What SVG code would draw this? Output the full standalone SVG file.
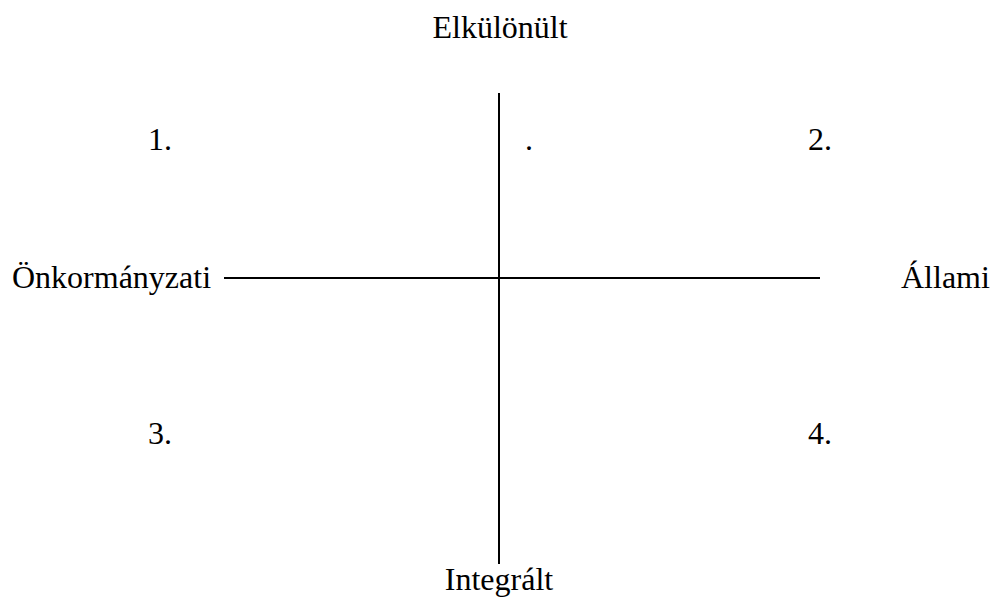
<svg xmlns="http://www.w3.org/2000/svg" width="991" height="597" viewBox="0 0 991 597">
<style>
text{font-family:"Liberation Serif","Times New Roman",serif;font-size:32px;fill:#000}
.ax{stroke:#000;stroke-width:2;fill:none}
</style>
<rect width="991" height="597" fill="#fff"/>
<g id="connectors">
<line class="ax" x1="499" y1="93" x2="499" y2="564"/>
<line class="ax" x1="224" y1="278" x2="820" y2="278"/>
</g>
<g id="top"><text x="500" y="38" text-anchor="middle">Elkülönült</text></g>
<g id="bottom"><text x="499" y="590" text-anchor="middle">Integrált</text></g>
<g id="left"><text x="12" y="288">Önkormányzati</text></g>
<g id="right"><text x="901" y="288">Állami</text></g>
<g id="q1"><text x="148" y="150">1.</text></g>
<g id="dot"><text x="525" y="150">.</text></g>
<g id="q2"><text x="808" y="150">2.</text></g>
<g id="q3"><text x="148" y="444">3.</text></g>
<g id="q4"><text x="808" y="444">4.</text></g>
</svg>
